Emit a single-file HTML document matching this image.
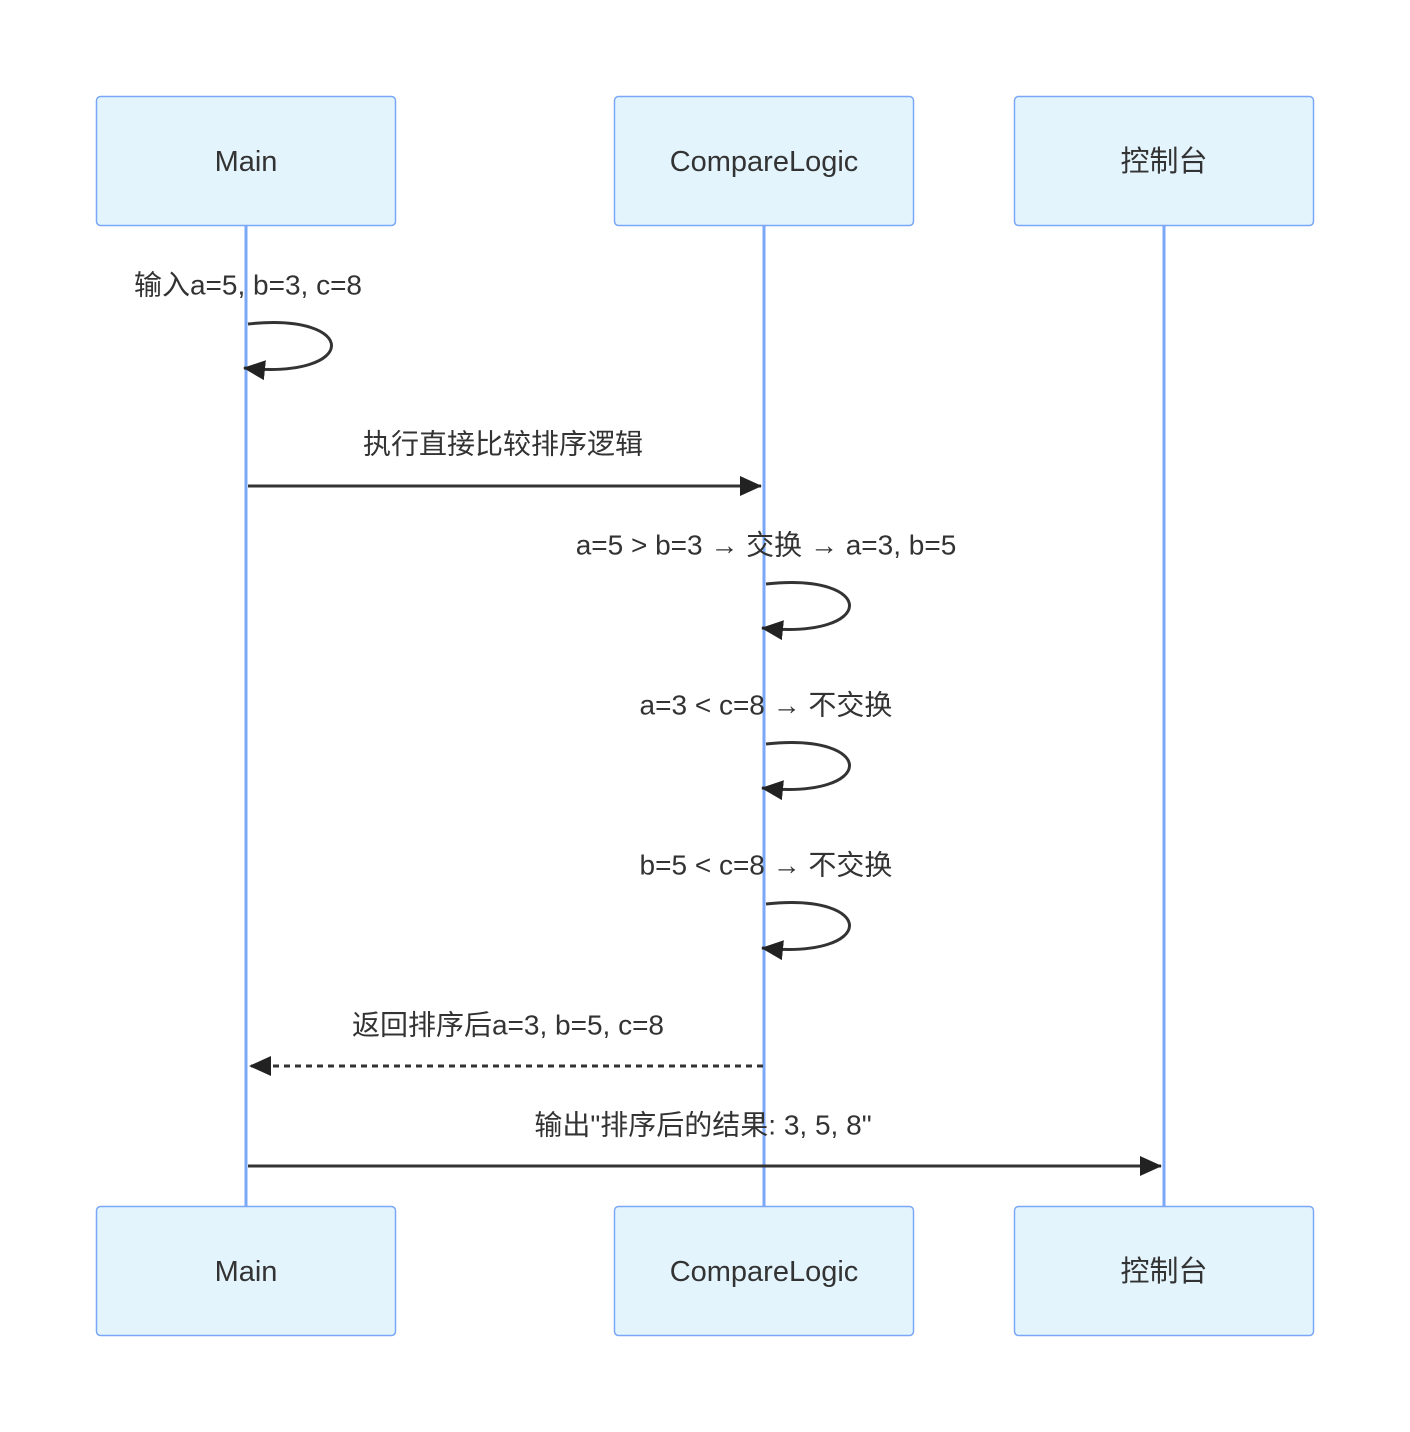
<!DOCTYPE html>
<html><head><meta charset="utf-8"><style>
html,body{margin:0;padding:0;background:#fff;}
svg{display:block;}
text{font-family:"Liberation Sans","Noto Sans CJK SC",sans-serif;fill:#333;}
</style></head><body>
<svg width="1410" height="1432" viewBox="0 0 1410 1432" xmlns="http://www.w3.org/2000/svg">
<defs>
<marker id="ah" markerWidth="12" markerHeight="12" refX="11" refY="6" orient="auto" markerUnits="userSpaceOnUse" viewBox="0 0 12 12">
<path d="M0,0 L12,6 L0,12 z" fill="#222"/></marker>
<marker id="ah2" markerWidth="22" markerHeight="20" refX="21" refY="10" orient="auto" markerUnits="userSpaceOnUse" viewBox="0 0 22 20">
<path d="M0,0 L22,10 L0,20 z" fill="#222"/></marker>
</defs>
<g stroke="#7aa7f7" stroke-width="3">
<line x1="246" y1="226" x2="246" y2="1206"/>
<line x1="764" y1="226" x2="764" y2="1206"/>
<line x1="1164" y1="226" x2="1164" y2="1206"/>
</g>
<g fill="#e3f4fd" stroke="#7aa7f7" stroke-width="1.5">
<rect x="96.5" y="96.5" width="299" height="129" rx="4"/>
<rect x="614.5" y="96.5" width="299" height="129" rx="4"/>
<rect x="1014.5" y="96.5" width="299" height="129" rx="4"/>
<rect x="96.5" y="1206.5" width="299" height="129" rx="4"/>
<rect x="614.5" y="1206.5" width="299" height="129" rx="4"/>
<rect x="1014.5" y="1206.5" width="299" height="129" rx="4"/>
</g>
<g font-size="29" text-anchor="middle" dominant-baseline="central">
<text x="246" y="162">Main</text>
<text x="764" y="162">CompareLogic</text>
<text x="1164" y="162">控制台</text>
<text x="246" y="1272">Main</text>
<text x="764" y="1272">CompareLogic</text>
<text x="1164" y="1272">控制台</text>
</g>
<g font-size="28" text-anchor="middle" dominant-baseline="central">
<text x="248" y="285">输入a=5, b=3, c=8</text>
<text x="503" y="444">执行直接比较排序逻辑</text>
<text x="766" y="545">a=5 &gt; b=3 → 交换 → a=3, b=5</text>
<text x="766" y="705">a=3 &lt; c=8 → 不交换</text>
<text x="766" y="865">b=5 &lt; c=8 → 不交换</text>
<text x="508" y="1025">返回排序后a=3, b=5, c=8</text>
<text x="703" y="1125">输出"排序后的结果: 3, 5, 8"</text>
</g>
<g fill="none" stroke="#333" stroke-width="3">
<path d="M248,324 C360,312 360,380 244,368" marker-end="url(#ah2)"/>
<path d="M766,584 C878,572 878,640 762,628" marker-end="url(#ah2)"/>
<path d="M766,744 C878,732 878,800 762,788" marker-end="url(#ah2)"/>
<path d="M766,904 C878,892 878,960 762,948" marker-end="url(#ah2)"/>
<line x1="248" y1="486" x2="761" y2="486" marker-end="url(#ah2)"/>
<line x1="763" y1="1066" x2="250" y2="1066" stroke-dasharray="6,5" marker-end="url(#ah2)"/>
<line x1="248" y1="1166" x2="1161" y2="1166" marker-end="url(#ah2)"/>
</g>
</svg>
</body></html>
